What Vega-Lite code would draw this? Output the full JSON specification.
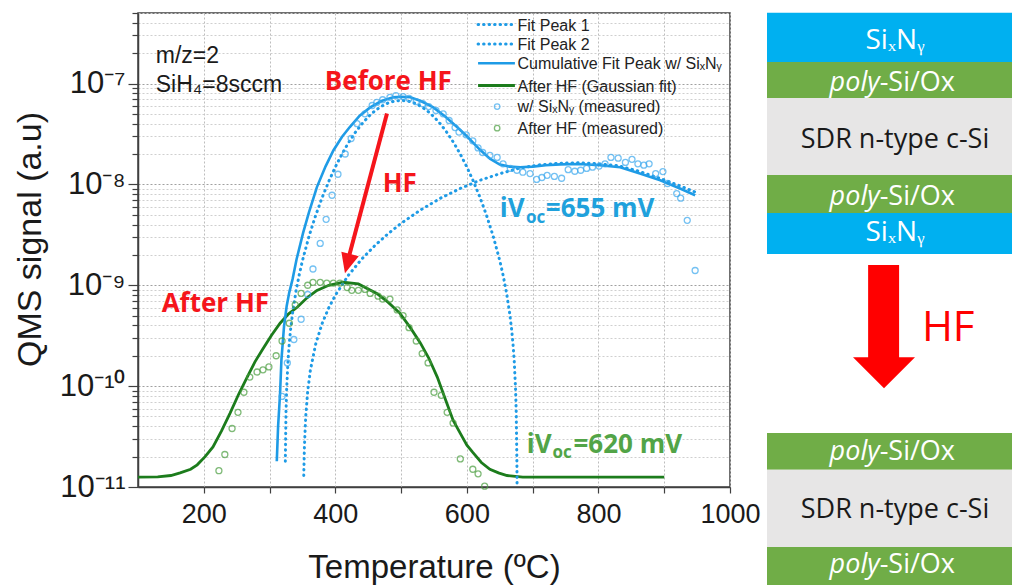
{
  "$schema": "https://vega.github.io/schema/vega-lite/v6.json",
  "width": 592,
  "height": 474,
  "autosize": {"type": "none"},
  "padding": {"left": 138, "top": 13, "right": 282, "bottom": 98},
  "background": "#ffffff",
  "config": {
    "view": {"stroke": "#404040", "strokeWidth": 1.5},
    "axis": {"labelFont": "Liberation Sans", "titleFont": "Liberation Sans"}
  },
  "datasets": {
    "p1": [
      {"T": 324, "v": 1.8e-11}, {"T": 325, "v": 5.5e-11}, {"T": 326, "v": 9.3e-11}, {"T": 328, "v": 1.76e-10},
      {"T": 330, "v": 2.66e-10}, {"T": 332, "v": 3.65e-10}, {"T": 335, "v": 5.32e-10}, {"T": 340, "v": 8.59e-10},
      {"T": 345, "v": 1.262e-9}, {"T": 350, "v": 1.754e-9}, {"T": 360, "v": 3.06e-9}, {"T": 370, "v": 4.9e-9},
      {"T": 380, "v": 7.41e-9}, {"T": 390, "v": 1.0705e-8}, {"T": 400, "v": 1.487e-8}, {"T": 410, "v": 1.994e-8},
      {"T": 420, "v": 2.587e-8}, {"T": 430, "v": 3.249e-8}, {"T": 440, "v": 3.956e-8}, {"T": 450, "v": 4.671e-8},
      {"T": 460, "v": 5.349e-8}, {"T": 470, "v": 5.943e-8}, {"T": 480, "v": 6.406e-8}, {"T": 490, "v": 6.702e-8},
      {"T": 500, "v": 6.803e-8}, {"T": 510, "v": 6.702e-8}, {"T": 520, "v": 6.406e-8}, {"T": 530, "v": 5.943e-8},
      {"T": 540, "v": 5.349e-8}, {"T": 550, "v": 4.671e-8}, {"T": 560, "v": 3.956e-8}, {"T": 570, "v": 3.249e-8},
      {"T": 580, "v": 2.587e-8}, {"T": 590, "v": 1.994e-8}, {"T": 600, "v": 1.487e-8}, {"T": 610, "v": 1.0705e-8},
      {"T": 620, "v": 7.41e-9}, {"T": 630, "v": 4.9e-9}, {"T": 640, "v": 3.06e-9}, {"T": 650, "v": 1.754e-9},
      {"T": 655, "v": 1.262e-9}, {"T": 660, "v": 8.59e-10}, {"T": 665, "v": 5.32e-10}, {"T": 668, "v": 3.65e-10},
      {"T": 670, "v": 2.66e-10}, {"T": 672, "v": 1.76e-10}, {"T": 674, "v": 9.3e-11}, {"T": 675, "v": 5.5e-11},
      {"T": 676, "v": 1.8e-11}, {"T": 676.3, "v": 1.0e-11}
    ],
    "p2": [
      {"T": 352, "v": 1.3e-11}, {"T": 353, "v": 2.5e-11}, {"T": 355, "v": 5.0e-11}, {"T": 358, "v": 8.9e-11},
      {"T": 362, "v": 1.43e-10}, {"T": 370, "v": 2.59e-10}, {"T": 380, "v": 4.19e-10}, {"T": 390, "v": 5.98e-10},
      {"T": 400, "v": 7.97e-10}, {"T": 420, "v": 1.259e-9}, {"T": 440, "v": 1.814e-9}, {"T": 460, "v": 2.472e-9},
      {"T": 480, "v": 3.234e-9}, {"T": 500, "v": 4.105e-9}, {"T": 530, "v": 5.6e-9}, {"T": 560, "v": 7.3e-9},
      {"T": 590, "v": 9.12e-9}, {"T": 620, "v": 1.098e-8}, {"T": 650, "v": 1.276e-8}, {"T": 680, "v": 1.45e-8},
      {"T": 710, "v": 1.56e-8}, {"T": 740, "v": 1.62e-8}, {"T": 770, "v": 1.64e-8}, {"T": 800, "v": 1.6e-8},
      {"T": 830, "v": 1.53e-8}, {"T": 860, "v": 1.36e-8}, {"T": 890, "v": 1.17e-8}, {"T": 920, "v": 9.9e-9},
      {"T": 947, "v": 8.4e-9}
    ],
    "cum": [
      {"T": 311, "v": 1.8e-11}, {"T": 313, "v": 4.0e-11}, {"T": 316, "v": 8.5e-11}, {"T": 318, "v": 1.8e-10},
      {"T": 322, "v": 3.9e-10}, {"T": 326, "v": 6.2e-10}, {"T": 330, "v": 8.5e-10}, {"T": 335, "v": 1.15e-9},
      {"T": 341, "v": 1.8e-9}, {"T": 351, "v": 3.3e-9}, {"T": 360, "v": 5.3e-9}, {"T": 372, "v": 9.4e-9},
      {"T": 385, "v": 1.5e-8}, {"T": 397, "v": 2.17e-8}, {"T": 410, "v": 2.95e-8}, {"T": 422, "v": 3.7e-8},
      {"T": 437, "v": 4.8e-8}, {"T": 453, "v": 5.8e-8}, {"T": 470, "v": 6.7e-8}, {"T": 488, "v": 7.3e-8},
      {"T": 500, "v": 7.4e-8}, {"T": 514, "v": 7.3e-8}, {"T": 530, "v": 6.7e-8}, {"T": 549, "v": 5.8e-8},
      {"T": 567, "v": 4.7e-8}, {"T": 585, "v": 3.7e-8}, {"T": 600, "v": 3.0e-8}, {"T": 620, "v": 2.2e-8},
      {"T": 635, "v": 1.8e-8}, {"T": 650, "v": 1.57e-8}, {"T": 665, "v": 1.5e-8}, {"T": 681, "v": 1.48e-8},
      {"T": 700, "v": 1.5e-8}, {"T": 720, "v": 1.55e-8}, {"T": 742, "v": 1.58e-8}, {"T": 770, "v": 1.59e-8},
      {"T": 802, "v": 1.55e-8}, {"T": 833, "v": 1.48e-8}, {"T": 863, "v": 1.28e-8}, {"T": 894, "v": 1.1e-8},
      {"T": 924, "v": 9.1e-9}, {"T": 947, "v": 7.8e-9}
    ],
    "hf": [
      {"T": 100, "v": 1.25e-11}, {"T": 130, "v": 1.26e-11}, {"T": 150, "v": 1.3e-11}, {"T": 164, "v": 1.38e-11},
      {"T": 180, "v": 1.5e-11}, {"T": 190, "v": 1.66e-11}, {"T": 202, "v": 2.0e-11}, {"T": 214, "v": 2.5e-11},
      {"T": 227, "v": 3.6e-11}, {"T": 240, "v": 5.4e-11}, {"T": 253, "v": 8.3e-11}, {"T": 266, "v": 1.23e-10},
      {"T": 278, "v": 1.75e-10}, {"T": 290, "v": 2.35e-10}, {"T": 303, "v": 3.2e-10}, {"T": 316, "v": 4.2e-10},
      {"T": 329, "v": 5.2e-10}, {"T": 342, "v": 6.05e-10}, {"T": 357, "v": 7.5e-10}, {"T": 372, "v": 8.9e-10},
      {"T": 390, "v": 1.0e-9}, {"T": 412, "v": 1.07e-9}, {"T": 435, "v": 1.03e-9}, {"T": 463, "v": 8.3e-10},
      {"T": 480, "v": 6.8e-10}, {"T": 498, "v": 5.3e-10}, {"T": 514, "v": 3.8e-10}, {"T": 529, "v": 2.7e-10},
      {"T": 542, "v": 1.9e-10}, {"T": 555, "v": 1.23e-10}, {"T": 567, "v": 7.5e-11}, {"T": 579, "v": 4.6e-11},
      {"T": 590, "v": 3.4e-11}, {"T": 600, "v": 2.6e-11}, {"T": 609, "v": 2.2e-11}, {"T": 622, "v": 1.75e-11},
      {"T": 635, "v": 1.5e-11}, {"T": 648, "v": 1.38e-11}, {"T": 661, "v": 1.3e-11}, {"T": 685, "v": 1.25e-11},
      {"T": 900, "v": 1.25e-11}
    ],
    "mb": [
      {"T": 319, "v": 7.9e-11}, {"T": 327, "v": 1.7e-10}, {"T": 337, "v": 2.9e-10}, {"T": 348, "v": 4.6e-10},
      {"T": 358, "v": 8.1e-10}, {"T": 366, "v": 1.45e-9}, {"T": 377, "v": 2.6e-9}, {"T": 386, "v": 4.5e-9},
      {"T": 395, "v": 7.8e-9}, {"T": 404, "v": 1.26e-8}, {"T": 415, "v": 2.0e-8}, {"T": 424, "v": 2.85e-8},
      {"T": 433, "v": 4.0e-8}, {"T": 445, "v": 5.0e-8}, {"T": 456, "v": 6.05e-8}, {"T": 463, "v": 6.5e-8},
      {"T": 472, "v": 6.9e-8}, {"T": 483, "v": 7.3e-8}, {"T": 492, "v": 7.6e-8}, {"T": 503, "v": 7.4e-8},
      {"T": 512, "v": 7.1e-8}, {"T": 523, "v": 6.6e-8}, {"T": 533, "v": 6.3e-8}, {"T": 542, "v": 5.9e-8},
      {"T": 553, "v": 5.4e-8}, {"T": 564, "v": 5.0e-8}, {"T": 573, "v": 4.3e-8}, {"T": 582, "v": 3.66e-8},
      {"T": 588, "v": 3.3e-8}, {"T": 599, "v": 3.1e-8}, {"T": 609, "v": 2.7e-8}, {"T": 617, "v": 2.3e-8},
      {"T": 624, "v": 2.07e-8}, {"T": 635, "v": 1.94e-8}, {"T": 646, "v": 1.85e-8}, {"T": 655, "v": 1.6e-8},
      {"T": 666, "v": 1.44e-8}, {"T": 676, "v": 1.38e-8}, {"T": 685, "v": 1.32e-8}, {"T": 696, "v": 1.28e-8},
      {"T": 706, "v": 1.12e-8}, {"T": 714, "v": 1.17e-8}, {"T": 722, "v": 1.23e-8}, {"T": 733, "v": 1.2e-8},
      {"T": 744, "v": 1.15e-8}, {"T": 754, "v": 1.4e-8}, {"T": 764, "v": 1.35e-8}, {"T": 773, "v": 1.38e-8},
      {"T": 782, "v": 1.44e-8}, {"T": 791, "v": 1.48e-8}, {"T": 801, "v": 1.52e-8}, {"T": 810, "v": 1.6e-8},
      {"T": 819, "v": 1.85e-8}, {"T": 830, "v": 1.82e-8}, {"T": 841, "v": 1.65e-8}, {"T": 851, "v": 1.77e-8},
      {"T": 860, "v": 1.6e-8}, {"T": 869, "v": 1.55e-8}, {"T": 877, "v": 1.6e-8}, {"T": 887, "v": 1.28e-8},
      {"T": 898, "v": 1.34e-8}, {"T": 905, "v": 1.02e-8}, {"T": 919, "v": 8.1e-9}, {"T": 925, "v": 7.3e-9},
      {"T": 935, "v": 4.4e-9}, {"T": 947, "v": 1.4e-9}
    ],
    "mg": [
      {"T": 223, "v": 1.45e-11}, {"T": 232, "v": 2.1e-11}, {"T": 243, "v": 3.8e-11}, {"T": 252, "v": 5.5e-11},
      {"T": 261, "v": 8.7e-11}, {"T": 270, "v": 1.23e-10}, {"T": 281, "v": 1.38e-10}, {"T": 290, "v": 1.45e-10},
      {"T": 299, "v": 1.55e-10}, {"T": 310, "v": 2.0e-10}, {"T": 319, "v": 2.8e-10}, {"T": 330, "v": 4.2e-10},
      {"T": 339, "v": 6.4e-10}, {"T": 348, "v": 8.3e-10}, {"T": 358, "v": 1.0e-9}, {"T": 366, "v": 1.07e-9},
      {"T": 377, "v": 1.07e-9}, {"T": 387, "v": 1.05e-9}, {"T": 397, "v": 1.05e-9}, {"T": 407, "v": 1.05e-9},
      {"T": 418, "v": 9.5e-10}, {"T": 425, "v": 8.9e-10}, {"T": 435, "v": 8.9e-10}, {"T": 445, "v": 9.1e-10},
      {"T": 453, "v": 8.3e-10}, {"T": 465, "v": 7.8e-10}, {"T": 472, "v": 7.3e-10}, {"T": 483, "v": 7.3e-10},
      {"T": 494, "v": 5.7e-10}, {"T": 503, "v": 5.0e-10}, {"T": 512, "v": 3.8e-10}, {"T": 523, "v": 2.8e-10},
      {"T": 532, "v": 2.1e-10}, {"T": 541, "v": 1.7e-10}, {"T": 550, "v": 8.7e-11}, {"T": 561, "v": 8.1e-11},
      {"T": 570, "v": 5.5e-11}, {"T": 579, "v": 4.3e-11}, {"T": 590, "v": 1.9e-11}, {"T": 609, "v": 1.5e-11},
      {"T": 617, "v": 1.35e-11}, {"T": 627, "v": 1.02e-11}
    ],
    "leg_dot": [{"T": 617, "T2": 673, "v": 3.84e-7}, {"T": 617, "T2": 673, "v": 2.47e-7}],
    "leg_cum": [{"T": 617, "T2": 673, "v": 1.59e-7}],
    "leg_hf": [{"T": 617, "T2": 673, "v": 9.55e-8}],
    "leg_mb": [{"T": 646, "v": 5.91e-8}],
    "leg_mg": [{"T": 646, "v": 3.61e-8}],
    "leg_text": [
      {"T": 677, "v": 3.35e-7, "label": "Fit Peak 1"},
      {"T": 677, "v": 2.16e-7, "label": "Fit Peak 2"},
      {"T": 677, "v": 1.39e-7, "label": "Cumulative Fit Peak w/ SiₓNᵧ"},
      {"T": 677, "v": 8.33e-8, "label": "After HF (Gaussian fit)"},
      {"T": 677, "v": 5.16e-8, "label": "w/ SiₓNᵧ (measured)"},
      {"T": 677, "v": 3.15e-8, "label": "After HF (measured)"}
    ],
    "ann_black": [
      {"T": 127, "v": 1.58e-7, "label": "m/z=2"},
      {"T": 127, "v": 8.15e-8, "label": "SiH₄=8sccm"}
    ],
    "ann_red": [
      {"T": 384, "v": 8.53e-8, "label": "Before HF"},
      {"T": 472, "v": 8.34e-9, "label": "HF"},
      {"T": 136, "v": 5.4e-10, "label": "After HF"}
    ],
    "voc_main": [
      {"T": 650, "v": 4.71e-9, "label": "iV", "g": "before"},
      {"T": 720, "v": 4.71e-9, "label": "=655 mV", "g": "before"},
      {"T": 691, "v": 2.17e-11, "label": "iV", "g": "after"},
      {"T": 762, "v": 2.17e-11, "label": "=620 mV", "g": "after"}
    ],
    "voc_sub": [
      {"T": 690, "v": 4.11e-9, "label": "oc", "g": "before"},
      {"T": 730, "v": 1.94e-11, "label": "oc", "g": "after"}
    ],
    "arrow_line": [{"T": 478.5, "v": 5.05e-8}, {"T": 419.5, "v": 1.8e-9}],
    "arrow_head": [{"T": 418.5, "v": 1.64e-9}],
    "diag_rects": [
      {"x0": 0, "x1": 100, "y0": 2.2, "y1": 10.6, "m": "SiN"},
      {"x0": 0, "x1": 100, "y0": 10.6, "y1": 16.75, "m": "poly"},
      {"x0": 0, "x1": 100, "y0": 16.75, "y1": 29.9, "m": "cSi"},
      {"x0": 0, "x1": 100, "y0": 29.9, "y1": 36.4, "m": "poly"},
      {"x0": 0, "x1": 100, "y0": 36.4, "y1": 43.4, "m": "SiN"},
      {"x0": 0, "x1": 100, "y0": 74.0, "y1": 80.3, "m": "poly"},
      {"x0": 0, "x1": 100, "y0": 80.3, "y1": 93.5, "m": "cSi"},
      {"x0": 0, "x1": 100, "y0": 93.5, "y1": 100, "m": "poly"},
      {"x0": 39.5, "x1": 51.6, "y0": 45.3, "y1": 61.3, "m": "HF"}
    ],
    "diag_head": [{"x0": 45.7, "y0": 63.7}],
    "diag_sin": [
      {"x0": 50, "y0": 7.0, "label": "SiₓNᵧ"},
      {"x0": 50, "y0": 39.8, "label": "SiₓNᵧ"}
    ],
    "diag_poly": [
      {"x0": 44, "y0": 14.2, "a": "poly", "b": "-Si/Ox"},
      {"x0": 44, "y0": 33.6, "a": "poly", "b": "-Si/Ox"},
      {"x0": 44, "y0": 77.3, "a": "poly", "b": "-Si/Ox"},
      {"x0": 44, "y0": 96.6, "a": "poly", "b": "-Si/Ox"}
    ],
    "diag_csi": [
      {"x0": 50, "y0": 23.9, "label": "SDR n-type c-Si"},
      {"x0": 50, "y0": 87.2, "label": "SDR n-type c-Si"}
    ],
    "diag_hf": [{"x0": 60.5, "y0": 56.1, "label": "HF"}]
  },
  "layer": [
    {
      "encoding": {
        "x": {
          "field": "T", "type": "quantitative",
          "scale": {"domain": [100, 1000], "nice": false, "zero": false},
          "axis": {
            "values": [200, 300, 400, 500, 600, 700, 800, 900, 1000],
            "format": "d",
            "labelExpr": "datum.value % 200 == 0 ? datum.label : ''",
            "labelFontSize": 27, "labelColor": "#1a1a1a", "labelPadding": 8,
            "labelOverlap": false, "labelFlush": false,
            "tickSize": 6, "tickColor": "#404040", "tickWidth": 1.2,
            "domainColor": "#404040", "domainWidth": 1.5,
            "grid": true, "gridColor": "#bdbdbd", "gridDash": [2, 2], "gridWidth": 1,
            "title": "Temperature (ºC)", "titleFontSize": 33, "titleFontWeight": "normal",
            "titleColor": "#1a1a1a", "titlePadding": 24
          }
        },
        "y": {
          "field": "v", "type": "quantitative",
          "scale": {"type": "log", "domain": [1e-11, 5e-7], "nice": false},
          "axis": {
            "values": [1e-11, 2e-11, 3e-11, 4e-11, 5e-11, 6e-11, 7e-11, 8e-11, 9e-11,
                       1e-10, 2e-10, 3e-10, 4e-10, 5e-10, 6e-10, 7e-10, 8e-10, 9e-10,
                       1e-9, 2e-9, 3e-9, 4e-9, 5e-9, 6e-9, 7e-9, 8e-9, 9e-9,
                       1e-8, 2e-8, 3e-8, 4e-8, 5e-8, 6e-8, 7e-8, 8e-8, 9e-8,
                       1e-7, 2e-7, 3e-7, 4e-7, 5e-7],
            "labelExpr": "datum.value == 1e-7 ? '10⁻⁷' : datum.value == 1e-8 ? '10⁻⁸' : datum.value == 1e-9 ? '10⁻⁹' : datum.value == 1e-10 ? '10⁻¹⁰' : datum.value == 1e-11 ? '10⁻¹¹' : ''",
            "labelFontSize": 31, "labelColor": "#1a1a1a", "labelPadding": 3, "labelOverlap": false,
            "tickSize": {"condition": {"test": "indexof([1e-11,1e-10,1e-9,1e-8,1e-7], datum.value) >= 0", "value": 10}, "value": 6},
            "tickColor": "#404040", "tickWidth": 1.2,
            "domainColor": "#404040", "domainWidth": 1.5,
            "grid": true,
            "gridColor": {"condition": {"test": "indexof([1e-11,1e-10,1e-9,1e-8,1e-7], datum.value) >= 0", "value": "#a0a0a0"}, "value": "#cfcfcf"},
            "gridDash": [2, 2], "gridWidth": 1,
            "title": "QMS signal (a.u)", "titleFontSize": 34, "titleFontWeight": "normal",
            "titleColor": "#1a1a1a", "titlePadding": 12, "titleY": 226
          }
        }
      },
      "layer": [
        {"data": {"name": "hf"}, "mark": {"type": "line", "color": "#1c7c1c", "strokeWidth": 2.8}},
        {"data": {"name": "p1"}, "mark": {"type": "line", "color": "#1e9be6", "strokeWidth": 3, "strokeDash": [0.5, 5], "strokeCap": "round"}},
        {"data": {"name": "p2"}, "mark": {"type": "line", "color": "#1e9be6", "strokeWidth": 3, "strokeDash": [0.5, 5], "strokeCap": "round"}},
        {"data": {"name": "cum"}, "mark": {"type": "line", "color": "#1e9be6", "strokeWidth": 2.6}},
        {"data": {"name": "mb"}, "mark": {"type": "point", "shape": "circle", "filled": false, "color": "#3aa8ee", "size": 36, "strokeWidth": 1.3}},
        {"data": {"name": "mg"}, "mark": {"type": "point", "shape": "circle", "filled": false, "color": "#4a9e3f", "size": 36, "strokeWidth": 1.3}},
        {"data": {"name": "leg_dot"}, "mark": {"type": "rule", "color": "#1e9be6", "strokeWidth": 3, "strokeDash": [0.5, 5], "strokeCap": "round"},
         "encoding": {"x2": {"field": "T2"}}},
        {"data": {"name": "leg_cum"}, "mark": {"type": "rule", "color": "#1e9be6", "strokeWidth": 2.6},
         "encoding": {"x2": {"field": "T2"}}},
        {"data": {"name": "leg_hf"}, "mark": {"type": "rule", "color": "#1c7c1c", "strokeWidth": 2.8},
         "encoding": {"x2": {"field": "T2"}}},
        {"data": {"name": "leg_mb"}, "mark": {"type": "point", "shape": "circle", "filled": false, "color": "#3aa8ee", "size": 30, "strokeWidth": 1.3}},
        {"data": {"name": "leg_mg"}, "mark": {"type": "point", "shape": "circle", "filled": false, "color": "#4a9e3f", "size": 30, "strokeWidth": 1.3}},
        {"data": {"name": "leg_text"}, "mark": {"type": "text", "align": "left", "baseline": "alphabetic", "font": "Liberation Sans", "fontSize": 16, "color": "#222222"},
         "encoding": {"text": {"field": "label"}}},
        {"data": {"name": "ann_black"}, "mark": {"type": "text", "align": "left", "baseline": "alphabetic", "font": "Liberation Sans", "fontSize": 23, "color": "#1a1a1a"},
         "encoding": {"text": {"field": "label"}}},
        {"data": {"name": "arrow_line"}, "mark": {"type": "line", "color": "#f5151b", "strokeWidth": 4}},
        {"data": {"name": "arrow_head"}, "mark": {"type": "point", "shape": "M-0.9,-1L0.9,-1L0,1Z", "filled": true, "color": "#f5151b", "opacity": 1, "size": 400, "angle": 14.7}},
        {"data": {"name": "ann_red"}, "mark": {"type": "text", "align": "left", "baseline": "alphabetic", "font": "Open Sans", "fontWeight": "bold", "fontSize": 26, "color": "#f5151b"},
         "encoding": {"text": {"field": "label"}}},
        {"data": {"name": "voc_main"}, "mark": {"type": "text", "align": "left", "baseline": "alphabetic", "font": "Open Sans", "fontWeight": "bold", "fontSize": 26},
         "encoding": {"text": {"field": "label"},
                      "color": {"field": "g", "type": "nominal", "scale": {"domain": ["before", "after"], "range": ["#1fa1dc", "#52a447"]}, "legend": null}}},
        {"data": {"name": "voc_sub"}, "mark": {"type": "text", "align": "left", "baseline": "alphabetic", "font": "Open Sans", "fontWeight": "bold", "fontSize": 17},
         "encoding": {"text": {"field": "label"},
                      "color": {"field": "g", "type": "nominal", "scale": {"domain": ["before", "after"], "range": ["#1fa1dc", "#52a447"]}, "legend": null}}}
      ]
    },
    {
      "encoding": {
        "x": {"field": "x0", "type": "quantitative", "scale": {"domain": [0, 100], "range": [629, 885], "nice": false, "zero": false}, "axis": null},
        "y": {"field": "y0", "type": "quantitative", "scale": {"domain": [0, 100], "range": [-13, 572], "nice": false, "zero": false}, "axis": null}
      },
      "layer": [
        {"data": {"name": "diag_rects"}, "mark": {"type": "rect"},
         "encoding": {"x2": {"field": "x1"}, "y2": {"field": "y1"},
                      "color": {"field": "m", "type": "nominal", "scale": {"domain": ["SiN", "poly", "cSi", "HF"], "range": ["#00b0f0", "#70ad47", "#e7e6e6", "#ff0000"]}, "legend": null}}},
        {"data": {"name": "diag_head"}, "mark": {"type": "point", "shape": "M-1,-0.5L1,-0.5L0,0.5Z", "filled": true, "color": "#ff0000", "opacity": 1, "size": 3844}},
        {"data": {"name": "diag_sin"}, "mark": {"type": "text", "align": "center", "baseline": "middle", "font": "Open Sans", "fontSize": 28, "color": "#ffffff"},
         "encoding": {"text": {"field": "label"}}},
        {"data": {"name": "diag_poly"}, "mark": {"type": "text", "align": "right", "baseline": "middle", "font": "Open Sans", "fontStyle": "italic", "fontSize": 27, "color": "#ffffff"},
         "encoding": {"text": {"field": "a"}}},
        {"data": {"name": "diag_poly"}, "mark": {"type": "text", "align": "left", "baseline": "middle", "font": "Open Sans", "fontSize": 27, "color": "#ffffff"},
         "encoding": {"text": {"field": "b"}}},
        {"data": {"name": "diag_csi"}, "mark": {"type": "text", "align": "center", "baseline": "middle", "font": "Open Sans", "fontSize": 27, "color": "#1a1a1a"},
         "encoding": {"text": {"field": "label"}}},
        {"data": {"name": "diag_hf"}, "mark": {"type": "text", "align": "left", "baseline": "middle", "font": "Open Sans", "fontSize": 42, "color": "#ff0000"},
         "encoding": {"text": {"field": "label"}}}
      ]
    }
  ],
  "resolve": {"scale": {"x": "independent", "y": "independent", "color": "independent"}}
}
